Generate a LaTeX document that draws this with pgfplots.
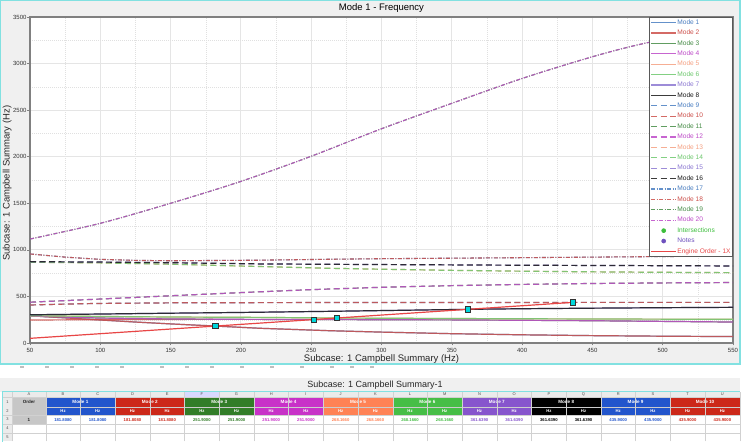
\documentclass[border=0pt]{standalone}
\usepackage{pgfplots}
\pgfplotsset{compat=1.18}
\usepackage{pgfplotstable}
\usepackage{fontspec}
\setmainfont{Liberation Sans}
\setsansfont{Liberation Sans}

\definecolor{m1}{RGB}{74,126,193}
\definecolor{m2}{RGB}{205,80,75}
\definecolor{m3}{RGB}{70,140,70}
\definecolor{m4}{RGB}{190,75,200}
\definecolor{m5}{RGB}{245,160,130}
\definecolor{m6}{RGB}{110,200,110}
\definecolor{m7}{RGB}{140,120,210}
\definecolor{m8}{RGB}{25,25,25}
\definecolor{eo}{RGB}{232,70,70}
\definecolor{isec}{RGB}{60,190,60}
\definecolor{notes}{RGB}{110,80,190}
\definecolor{sq}{RGB}{0,215,220}
\definecolor{chartbg}{RGB}{240,240,240}
\definecolor{frame}{RGB}{130,225,225}

\definecolor{t1}{RGB}{34,85,204}
\definecolor{t2}{RGB}{204,40,25}
\definecolor{t3}{RGB}{50,125,40}
\definecolor{t4}{RGB}{200,50,200}
\definecolor{t5}{RGB}{255,130,85}
\definecolor{t6}{RGB}{70,190,70}
\definecolor{t7}{RGB}{135,85,205}
\definecolor{t8}{RGB}{0,0,0}

% line groups (modes overlay in pairs)
\pgfplotstableread{
x y
50 292
75 270
100 247
125 225
150 205
181.8 181.8
213.6 158
263 132
300 117
350 100
400 88
450 79
500 73
550 69
}\A
\pgfplotstableread{
x y
50 247
100 250
150 253
180 254
}\B
\pgfplotstableread{
x y
50 290
75 278
100 268
150 258
200 254
251.9 251.9
300 250
350 248
400 244
450 239
500 232
550 225
}\C
\pgfplotstableread{
x y
50 293
100 285
150 279
213 275
268.166 268.166
300 266
350 263
400 260
450 258
500 256
550 254
}\D
\pgfplotstableread{
x y
50 303
100 311
150 320
200 328
263 340
300 348
361.639 361.639
400 368
450 374
500 379
550 383
}\E
\pgfplotstableread{
x y
50 408
75 418
100 425
150 431
200 433
300 435
435.9 435.9
550 436
}\F
\pgfplotstableread{
x y
50 438
100 472
150 507
200 541
250 573
300 598
350 616
400 629
450 639
500 645
550 649
}\G
\pgfplotstableread{
x y
50 867
100 860
150 846
200 826
263 802
300 792
350 780
400 771
450 764
500 759
550 755
}\H
\pgfplotstableread{
x y
50 873
100 869
150 862
213 849
263 845
300 842
400 835
500 830
550 827
}\I
\pgfplotstableread{
x y
50 956
75 922
100 898
125 887
150 883
213 889
263 899
300 905
400 916
500 928
550 935
}\J
\pgfplotstableread{
x y
50 1116
100 1285
150 1500
200 1735
250 2005
300 2300
350 2573
400 2840
450 3073
487 3217
550 3410
}\K

\tikzset{
  sol/.style={line width=1.2pt, opacity=0.85},
  dsh/.style={line width=1.2pt, opacity=0.85, dash pattern=on 6pt off 3.5pt},
  dd/.style={line width=1.1pt, opacity=0.85, dash pattern=on 4pt off 1.5pt on 1pt off 1.5pt},
}

\begin{document}
\begin{tikzpicture}[x=1pt,y=1pt]
\useasboundingbox (0,0) rectangle (750,442);
\fill[white] (0,0) rectangle (750,442);
% chart background and frame
\fill[chartbg] (0,{442-364}) rectangle (740,442);
\draw[frame, line width=1.2pt] (0.6,{442-364}) rectangle (740,441.4);

\begin{axis}[
  at={(30pt,99pt)}, anchor=south west,
  scale only axis, width=703pt, height=326pt,
  axis background/.style={fill=white},
  xmin=50, xmax=550, ymin=0, ymax=3500,
  xtick={50,100,...,550}, ytick={0,500,...,3500},
  minor xtick={75,125,...,525}, minor ytick={250,750,...,3250},
  grid=both,
  major grid style={draw=black!10, line width=0.9pt},
  minor grid style={draw=black!12, dash pattern=on 1pt off 1pt, line width=0.4pt},
  axis line style={draw=black!50, line width=1.1pt},
  tick align=outside, xtick pos=left, ytick pos=left,
  major tick length=2.5pt, minor tick length=0pt,
  tick style={draw=black!50, line width=0.5pt},
  tick label style={font=\fontsize{6}{7}\selectfont, text=black!80},
  xticklabel style={yshift=1pt},
  yticklabel style={xshift=2.5pt},
  /pgf/number format/assume math mode=true,
  /pgf/number format/1000 sep={},
  scaled ticks=false,
  xlabel={Subcase: 1 Campbell Summary (Hz)},
  ylabel={Subcase: 1 Campbell Summary (Hz)},
  xlabel style={font=\fontsize{9.5}{11}\selectfont, text=black!85, yshift=5pt},
  ylabel style={at={(axis description cs:-0.0325,0.49)}, anchor=center, rotate=0,
    font=\fontsize{9.5}{11}\selectfont, text=black!85},
  title={Mode 1 - Frequency},
  title style={font=\fontsize{9.5}{11}\selectfont, yshift=-5.5pt},
  legend style={at={(1,1)}, anchor=north east, draw=black!65, fill=white,
    line width=0.6pt,
    font=\fontsize{6.6}{7}\selectfont, inner sep=1.5pt,
    nodes={inner sep=0.6pt, text height=5pt, text depth=1.5pt},
    row sep=2.7pt},
  legend cell align=left,
  legend image code/.code={\draw[mark repeat=2,mark phase=2,#1] plot coordinates {(0pt,0pt) (12.5pt,0pt) (25pt,0pt)};},
]
% modes 1-8 solid
\addplot[sol, m1] table {\A}; \addlegendentry{\textcolor{m1}{Mode 1}}
\addplot[sol, m2] table {\A}; \addlegendentry{\textcolor{m2}{Mode 2}}
\addplot[sol, m2, forget plot] table {\B};
\addplot[sol, m3] table {\C}; \addlegendentry{\textcolor{m3}{Mode 3}}
\addplot[sol, m4] table {\C}; \addlegendentry{\textcolor{m4}{Mode 4}}
\addplot[sol, m5] table {\D}; \addlegendentry{\textcolor{m5}{Mode 5}}
\addplot[sol, m6] table {\D}; \addlegendentry{\textcolor{m6}{Mode 6}}
\addplot[sol, m7] table {\E}; \addlegendentry{\textcolor{m7}{Mode 7}}
\addplot[sol, m8] table {\E}; \addlegendentry{\textcolor{m8}{Mode 8}}
% modes 9-16 dashed
\addplot[dsh, m1] table {\F}; \addlegendentry{\textcolor{m1}{Mode 9}}
\addplot[dsh, m2] table {\F}; \addlegendentry{\textcolor{m2}{Mode 10}}
\addplot[dsh, m3] table {\G}; \addlegendentry{\textcolor{m3}{Mode 11}}
\addplot[dsh, m4] table {\G}; \addlegendentry{\textcolor{m4}{Mode 12}}
\addplot[dsh, m5] table {\H}; \addlegendentry{\textcolor{m5}{Mode 13}}
\addplot[dsh, m6] table {\H}; \addlegendentry{\textcolor{m6}{Mode 14}}
\addplot[dsh, m7] table {\I}; \addlegendentry{\textcolor{m7}{Mode 15}}
\addplot[dsh, m8] table {\I}; \addlegendentry{\textcolor{m8}{Mode 16}}
% modes 17-20 dash-dot
\addplot[dd, m1] table {\J}; \addlegendentry{\textcolor{m1}{Mode 17}}
\addplot[dd, m2] table {\J}; \addlegendentry{\textcolor{m2}{Mode 18}}
\addplot[dd, m3, smooth] table {\K}; \addlegendentry{\textcolor{m3}{Mode 19}}
\addplot[dd, m4, smooth] table {\K}; \addlegendentry{\textcolor{m4}{Mode 20}}
\addlegendimage{only marks, mark=*, mark size=2pt, isec}
\addlegendentry{\textcolor{isec}{Intersections}}
\addlegendimage{only marks, mark=*, mark size=2pt, notes}
\addlegendentry{\textcolor{notes}{Notes}}
\addplot[eo, line width=1.2pt] coordinates {(50,50) (181.808,181.808) (251.9,251.9) (268.166,268.166) (361.639,361.639) (435.9,435.9)};
\addlegendentry{\textcolor{eo}{Engine Order - 1X}}
\addplot[only marks, mark=square*, mark size=2.6pt, mark options={fill=sq, draw=black!80, line width=0.6pt}, forget plot]
  coordinates {(181.808,181.808) (251.9,251.9) (268.166,268.166) (361.639,361.639) (435.9,435.9)};
\end{axis}

% ---------- table area ----------
% toolbar hint
\foreach \xx in {20,45,70,95,120,160,185,210,240,270,300,330,350,370} {
  \fill[black!25] (\xx,{442-368}) rectangle ({\xx+4},{442-366});
}
\fill[chartbg] (0,{442-391.7}) rectangle (740,{442-378});
\node[font=\fontsize{9}{10}\selectfont, text=black!85] at (375,{442-385}) {Subcase: 1 Campbell Summary-1};
% header letters row
\fill[black!8] (3,{442-397.3}) rectangle (740,{442-391.7});
\fill[black!8] (3,{442-441.3}) rectangle (12.3,{442-391.7});
\fill[blue!15] ({45.7+4*34.7},{442-397.3}) rectangle ({45.7+5*34.7},{442-391.7});
\node[font=\fontsize{4}{5}\selectfont, text=black!70] at (29,{442-394.5}) {A};
\foreach \L [count=\j from 0] in {B,C,D,E,F,G,H,I,J,K,L,M,N,O,P,Q,R,S,T,U} {
  \node[font=\fontsize{4}{5}\selectfont, text=black!70] at ({45.7+\j*34.7+17.35},{442-394.5}) {\L};
}
% column A cells
\fill[black!22] (12.3,{442-424}) rectangle (45.7,{442-397.3});
\node[font=\fontsize{4.5}{5}\selectfont\bfseries, text=black!85] at (29,{442-402}) {Order};
\node[font=\fontsize{4.5}{5}\selectfont\bfseries, text=black!85] at (29,{442-419.6}) {1};
% row numbers
\foreach \r/\yy in {1/402,2/411,3/419.6,4/428.3,5/437} {
  \node[font=\fontsize{4}{5}\selectfont, text=black!70] at (7.6,{442-\yy}) {\r};
}
% mode headers and values
\foreach \k/\c/\v in {1/t1/181.8080,2/t2/181.8080,3/t3/251.9000,4/t4/251.9000,5/t5/268.1660,6/t6/268.1660,7/t7/361.6390,8/t8/361.6390,9/t1/435.9000,10/t2/435.9000} {
  \pgfmathsetmacro\xa{45.7+(\k-1)*69.4}
  \fill[\c] (\xa,{442-415.3}) rectangle ({\xa+69.4},{442-397.3});
  \draw[white, line width=0.3pt] ({\xa+34.7},{442-415.3}) -- ({\xa+34.7},{442-406.7});
  \draw[white!80!black, line width=0.2pt] (\xa,{442-406.7}) -- ({\xa+69.4},{442-406.7});
  \node[font=\fontsize{4.6}{5}\selectfont\bfseries, text=white] at ({\xa+34.7},{442-402}) {Mode \k};
  \node[font=\fontsize{4.2}{5}\selectfont\bfseries, text=white] at ({\xa+17.35},{442-411}) {Hz};
  \node[font=\fontsize{4.2}{5}\selectfont\bfseries, text=white] at ({\xa+52.05},{442-411}) {Hz};
  \node[font=\fontsize{4.2}{5}\selectfont\bfseries, text=\c] at ({\xa+17.35},{442-419.6}) {\v};
  \node[font=\fontsize{4.2}{5}\selectfont\bfseries, text=\c] at ({\xa+52.05},{442-419.6}) {\v};
}
\fill[t3] (739.5,{442-415.3}) rectangle (741,{442-397.3});
% grid lines
\foreach \j in {0,...,20} {
  \draw[black!18, line width=0.3pt] ({45.7+\j*34.7},{442-441.3}) -- ({45.7+\j*34.7},{442-391.7});
}
\draw[black!18, line width=0.3pt] (12.3,{442-441.3}) -- (12.3,{442-391.7});
\foreach \yy in {397.3,415.3,424,432.7} {
  \draw[black!18, line width=0.3pt] (3,{442-\yy}) -- (740,{442-\yy});
}
\draw[frame, line width=1pt] (2,0) -- (2,{442-392}) -- (740,{442-392});
\end{tikzpicture}
\end{document}
